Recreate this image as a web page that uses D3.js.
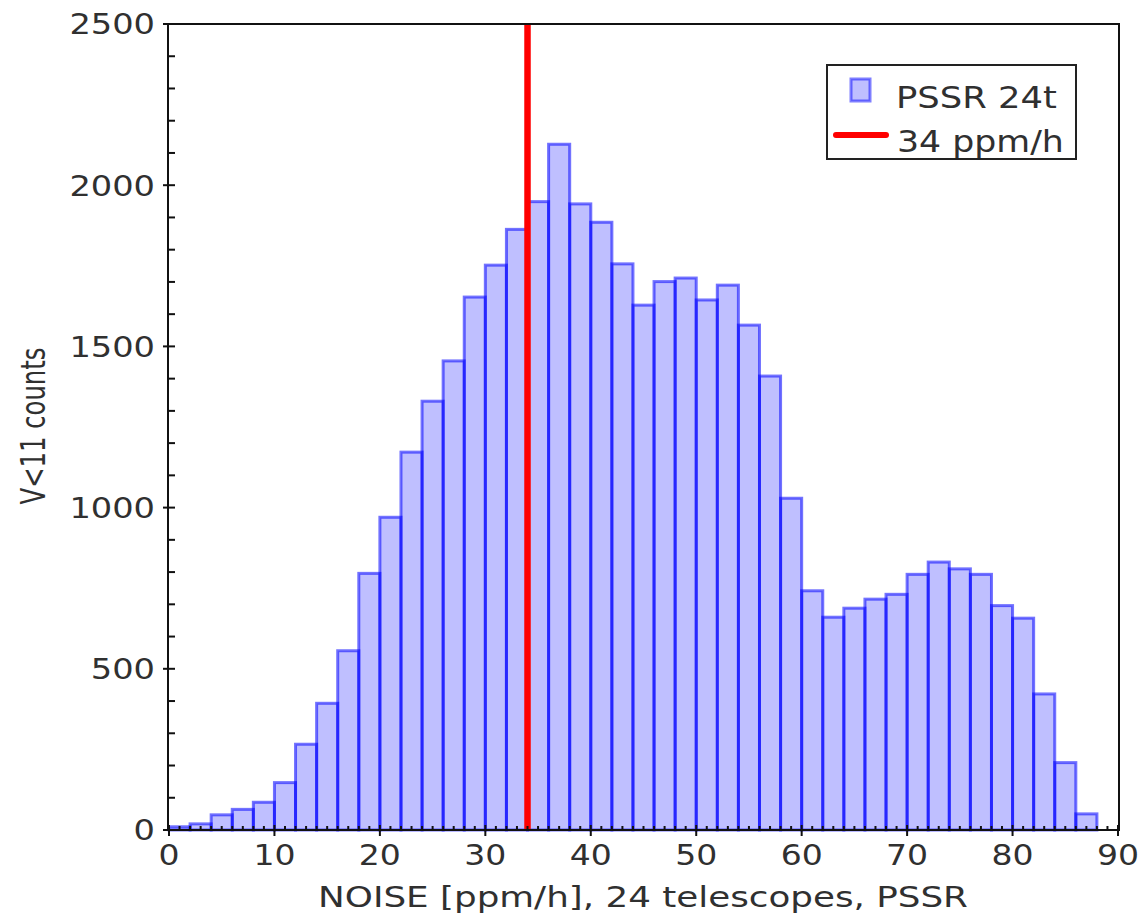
<!DOCTYPE html>
<html>
<head>
<meta charset="utf-8">
<script src="https://cdn.jsdelivr.net/npm/d3@7"></script>
<style>
  html, body { margin: 0; padding: 0; background: #fff; }
  svg { display: block; font-family: "DejaVu Sans", sans-serif; }
</style>
</head>
<body>
<svg id="chart" width="1143" height="916"></svg>
<script>
// ---- data ----
const binStarts = [0,2,4,6,8,10,12,14,16,18,20,22,24,26,28,30,32,34,36,38,40,42,44,46,48,50,52,54,56,58,60,62,64,66,68,70,72,74,76,78,80,82,84,86];
const binWidth = 2;
const counts = [10,19,47,64,86,147,266,393,556,796,970,1172,1330,1455,1653,1752,1863,1949,2127,1942,1885,1756,1628,1701,1712,1644,1690,1566,1408,1029,742,660,688,716,731,793,831,810,793,696,657,422,209,50];
const xTicks = [0,10,20,30,40,50,60,70,80,90];
const yTicks = [0,500,1000,1500,2000,2500];
const threshold = 34;
const seriesName = "PSSR 24t";
const thresholdName = "34 ppm/h";
const xTitle = "NOISE [ppm/h], 24 telescopes, PSSR";
const yTitle = "V<11 counts";

// ---- layout ----
const L = 168, R = 1119, T = 24, B = 830;
const textColor = "#303030";
const svg = d3.select("#chart");
const x = d3.scaleLinear().domain([0, 90]).range([L + 1, R - 1]);
const y = d3.scaleLinear().domain([0, 2500]).range([B, T]);

function hfit(sel, target, ax) {
  sel.each(function () {
    const w = this.getComputedTextLength();
    const s = target / w;
    d3.select(this).attr("transform", `translate(${ax},0) scale(${s},1) translate(${-ax},0)`);
  });
}

// bars
const bins = binStarts.map((b, i) => ({ x0: b, x1: b + binWidth, n: counts[i] }));
svg.append("g").selectAll("rect").data(bins).join("rect")
  .attr("x", d => x(d.x0))
  .attr("width", d => x(d.x1) - x(d.x0))
  .attr("y", d => y(d.n))
  .attr("height", d => y(0) - y(d.n))
  .attr("fill", "rgba(0,0,255,0.25)")
  .attr("stroke", "rgba(0,0,255,0.55)")
  .attr("stroke-width", 3);

// threshold line
svg.append("line")
  .attr("x1", x(threshold)).attr("x2", x(threshold))
  .attr("y1", T).attr("y2", B)
  .attr("stroke", "#ff0000").attr("stroke-width", 6.5);

// frame
svg.append("rect").attr("x", L).attr("y", T).attr("width", R - L).attr("height", B - T)
  .attr("fill", "none").attr("stroke", "#111").attr("stroke-width", 2);

// x axis ticks
const xMinor = d3.range(0, 90, 1).filter(v => v % 10 !== 0);
const gx = svg.append("g");
gx.selectAll("line.minor").data(xMinor).join("line")
  .attr("x1", d => x(d)).attr("x2", d => x(d)).attr("y1", B).attr("y2", B - 4)
  .attr("stroke", "#111").attr("stroke-width", 2);
gx.selectAll("line.major").data(xTicks).join("line")
  .attr("x1", d => x(d)).attr("x2", d => x(d)).attr("y1", B - 5).attr("y2", B + 6)
  .attr("stroke", "#111").attr("stroke-width", 2);
gx.selectAll("text").data(xTicks).join("text")
  .attr("x", d => x(d)).attr("y", 865)
  .attr("text-anchor", "middle")
  .attr("font-size", 28).attr("fill", textColor)
  .text(d => d)
  .each(function (d) {
    const ax = x(d);
    d3.select(this).attr("transform", `translate(${ax},0) scale(1.18,1) translate(${-ax},0)`);
  });

// y axis ticks
const yMinor = d3.range(0, 2500, 100).filter(v => v % 500 !== 0);
const gy = svg.append("g");
gy.selectAll("line.minor").data(yMinor).join("line")
  .attr("x1", L).attr("x2", L + 7).attr("y1", d => y(d)).attr("y2", d => y(d))
  .attr("stroke", "#111").attr("stroke-width", 2);
gy.selectAll("line.major").data(yTicks).join("line")
  .attr("x1", L - 5).attr("x2", L + 7).attr("y1", d => y(d)).attr("y2", d => y(d))
  .attr("stroke", "#111").attr("stroke-width", 2);
gy.selectAll("text").data(yTicks).join("text")
  .attr("x", 155).attr("y", d => y(d)).attr("dy", "0.36em")
  .attr("text-anchor", "end")
  .attr("font-size", 29).attr("fill", textColor)
  .text(d => d)
  .attr("transform", `translate(155,0) scale(1.16,1) translate(-155,0)`);

// axis titles
svg.append("text")
  .attr("x", 643).attr("y", 907).attr("text-anchor", "middle")
  .attr("font-size", 27.5).attr("fill", textColor)
  .text(xTitle)
  .call(hfit, 650, 643);

const yt = svg.append("text")
  .attr("x", 0).attr("y", 0).attr("text-anchor", "middle")
  .attr("font-size", 24).attr("fill", textColor)
  .text(yTitle);
const ytw = yt.node().getComputedTextLength();
yt.attr("transform", `translate(45,426) rotate(-90) scale(${157 / ytw},1.38)`);

// legend
const lg = svg.append("g");
lg.append("rect").attr("x", 827).attr("y", 65).attr("width", 249).attr("height", 94)
  .attr("fill", "#fff").attr("stroke", "#222").attr("stroke-width", 2);
lg.append("rect").attr("x", 851).attr("y", 79).attr("width", 19).attr("height", 22)
  .attr("fill", "rgba(0,0,255,0.25)").attr("stroke", "rgba(0,0,255,0.5)").attr("stroke-width", 3);
lg.append("text").attr("x", 896).attr("y", 108).attr("font-size", 29.5).attr("fill", textColor)
  .text(seriesName).call(hfit, 161, 896);
lg.append("line").attr("x1", 836).attr("x2", 886).attr("y1", 135).attr("y2", 135)
  .attr("stroke", "#ff0000").attr("stroke-width", 6).attr("stroke-linecap", "round");
lg.append("text").attr("x", 897).attr("y", 152).attr("font-size", 29.5).attr("fill", textColor)
  .text(thresholdName).call(hfit, 167, 897);
</script>
</body>
</html>
